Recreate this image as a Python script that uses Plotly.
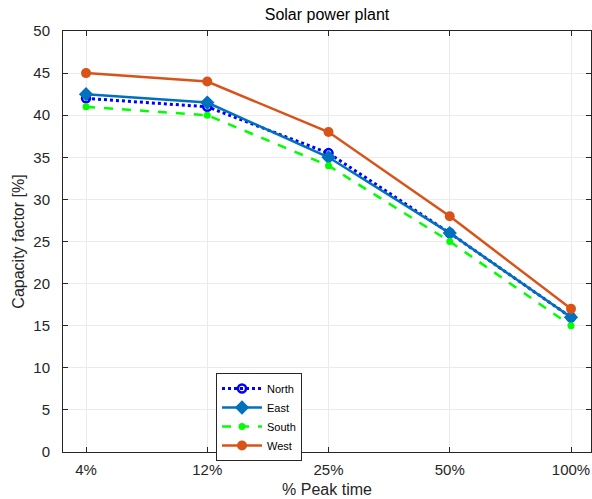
import plotly.graph_objects as go

# Share of peak time and the matching category positions
peak_labels = ["4%", "12%", "25%", "50%", "100%"]
positions = [1, 2, 3, 4, 5]

# Capacity factor [%] per orientation
north = [42, 41, 35.5, 26, 16]
east = [42.5, 41.5, 35, 26, 16]
south = [41, 40, 34, 25, 15]
west = [45, 44, 38, 28, 17]

fig = go.Figure()

fig.add_trace(go.Scatter(
    x=positions, y=north, name="North", mode="lines+markers",
    line=dict(color="#0000FF", width=3, dash="dot"),
    marker=dict(symbol="circle-open", size=8, color="#0000FF",
                line=dict(width=2.5, color="#0000FF")),
))
fig.add_trace(go.Scatter(
    x=positions, y=east, name="East", mode="lines+markers",
    line=dict(color="#0072BD", width=2.5),
    marker=dict(symbol="diamond", size=11, color="#0072BD"),
))
fig.add_trace(go.Scatter(
    x=positions, y=south, name="South", mode="lines+markers",
    line=dict(color="#00FF00", width=2.5, dash="dash"),
    marker=dict(symbol="circle", size=7, color="#00FF00"),
))
fig.add_trace(go.Scatter(
    x=positions, y=west, name="West", mode="lines+markers",
    line=dict(color="#D95319", width=2.5),
    marker=dict(symbol="circle", size=10, color="#D95319"),
))

axis_font = dict(family="Liberation Sans, Arial, sans-serif", size=15, color="#262626")

fig.update_layout(
    width=592, height=499,
    margin=dict(l=63, r=1, t=31, b=47),
    paper_bgcolor="white", plot_bgcolor="white",
    font=axis_font,
    title=dict(text="Solar power plant", x=0.5, xanchor="center",
               xref="paper", y=1 - 14 / 499, yanchor="middle",
               font=dict(size=16, color="#000000")),
    showlegend=True,
    legend=dict(x=(216 - 63) / 528, y=(452 - 373) / 421, xanchor="left", yanchor="top",
                xref="paper", yref="paper",
                bgcolor="white", bordercolor="#262626", borderwidth=1,
                font=dict(size=11, color="#000000"),
                tracegroupgap=0, itemwidth=40),
)

fig.update_xaxes(
    range=[0.81, 5.165], tickmode="array", tickvals=positions, ticktext=peak_labels,
    showgrid=True, gridcolor="#EBEBEB", gridwidth=1,
    showline=True, linecolor="#262626", linewidth=1, mirror="ticks",
    ticks="inside", ticklen=5, tickcolor="#262626",
    zeroline=False, ticklabelstandoff=4,
    title=dict(text="% Peak time", font=dict(size=16), standoff=6),
)
fig.update_yaxes(
    range=[0, 50], tickmode="array", tickvals=list(range(0, 51, 5)),
    showgrid=True, gridcolor="#EBEBEB", gridwidth=1,
    showline=True, linecolor="#262626", linewidth=1, mirror="ticks",
    ticks="inside", ticklen=5, tickcolor="#262626",
    zeroline=False, ticklabelstandoff=9,
    title=dict(text="Capacity factor [%]", font=dict(size=16), standoff=4),
)

fig.write_html("out.html")
